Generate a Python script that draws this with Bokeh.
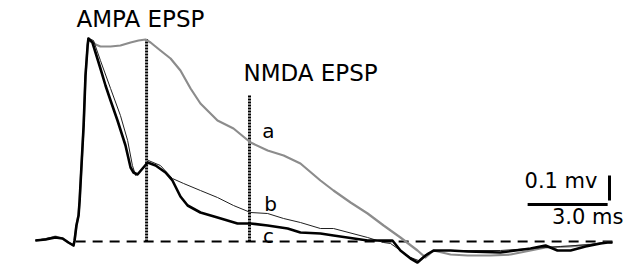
from bokeh.plotting import figure
from bokeh.models import Range1d
from bokeh.core.properties import value
from bokeh.embed import file_html
from bokeh.resources import INLINE

# Time (ms) relative to stimulus, membrane potential (mV) relative to baseline
t_a = [-1.43, -1.05, -0.68, -0.41, -0.19, 0.0, 0.04, 0.11, 0.19, 0.23, 0.30, 0.38, 0.45, 0.53, 0.56,
       0.83, 1.01, 1.39, 1.76, 2.14, 2.44, 2.70, 2.89, 3.26, 3.64, 4.01, 4.39, 4.76, 5.40, 6.00,
       6.64, 7.28, 7.88, 8.51, 9.26, 9.75, 10.39, 11.03, 11.63, 12.26, 12.90, 13.20, 13.50, 14.14,
       14.78, 15.64, 16.39, 17.14, 17.70, 18.64, 19.39, 19.95, 20.21]
v_a = [0.004, 0.008, 0.020, 0.012, -0.004, -0.016, 0.004, 0.064, 0.108, 0.164, 0.304, 0.464, 0.664, 0.784, 0.812,
       0.788, 0.780, 0.780, 0.784, 0.796, 0.804, 0.808, 0.796, 0.764, 0.732, 0.684, 0.612, 0.552, 0.484, 0.452,
       0.396, 0.364, 0.344, 0.312, 0.244, 0.204, 0.156, 0.112, 0.064, 0.016, -0.036, -0.064, -0.036, -0.052,
       -0.056, -0.056, -0.052, -0.036, -0.024, -0.020, -0.012, -0.004, -0.004]

t_b = [-1.43, -1.05, -0.68, -0.41, -0.19, 0.0, 0.04, 0.11, 0.19, 0.23, 0.30, 0.38, 0.45, 0.53, 0.56,
       0.75, 1.01, 1.39, 1.76, 2.03, 2.21, 2.33, 2.59, 2.81, 3.26, 3.71, 4.13, 4.76, 5.40, 6.00,
       6.64, 7.28, 7.88, 8.51, 9.26, 9.75, 11.03, 11.63, 11.89, 12.26, 12.64, 12.94, 13.31, 13.76,
       14.51, 16.01, 17.14, 18.26, 19.39, 19.95, 20.21]
v_b = [0.004, 0.012, 0.020, 0.012, -0.004, -0.016, 0.004, 0.064, 0.104, 0.164, 0.304, 0.464, 0.664, 0.784, 0.812,
       0.804, 0.724, 0.612, 0.504, 0.404, 0.304, 0.264, 0.292, 0.324, 0.304, 0.252, 0.232, 0.204, 0.176, 0.144,
       0.116, 0.112, 0.092, 0.076, 0.052, 0.052, 0.016, -0.004, -0.008, -0.036, -0.064, -0.076, -0.044, -0.036,
       -0.036, -0.036, -0.028, -0.020, -0.012, -0.004, -0.004]

t_c = [-1.43, -1.05, -0.68, -0.41, -0.19, 0.0, 0.04, 0.11, 0.19, 0.23, 0.30, 0.38, 0.45, 0.53, 0.56,
       0.71, 0.86, 1.01, 1.20, 1.39, 1.65, 1.95, 2.14, 2.25, 2.40, 2.59, 2.78, 3.08, 3.45, 3.71,
       4.01, 4.28, 4.76, 5.40, 6.15, 6.64, 7.28, 8.03, 8.51, 9.26, 9.75, 11.03, 11.96, 12.26,
       12.64, 12.90, 13.20, 13.50, 14.14, 14.78, 16.01, 17.14, 17.70, 18.15, 18.64, 19.20, 19.76,
       20.03, 20.21]
v_c = [0.004, 0.008, 0.016, 0.012, -0.004, -0.016, 0.004, 0.064, 0.104, 0.164, 0.304, 0.464, 0.664, 0.784, 0.812,
       0.796, 0.744, 0.692, 0.624, 0.564, 0.484, 0.384, 0.296, 0.276, 0.268, 0.292, 0.316, 0.304, 0.276, 0.244,
       0.180, 0.144, 0.116, 0.096, 0.072, 0.072, 0.064, 0.052, 0.036, 0.032, 0.024, 0.004, 0.004, -0.036,
       -0.068, -0.084, -0.056, -0.036, -0.036, -0.040, -0.044, -0.028, -0.016, -0.036, -0.036, -0.020, -0.008,
       -0.004, -0.004]

# Markers and annotations
ampa_t, ampa_top = 2.74, 0.81
nmda_t, nmda_top = 6.60, 0.584
baseline_t = [0.08, 20.21]
scale_v_t, scale_v = 20.10, [0.164, 0.264]   # 0.1 mV
scale_t, scale_t_v = [17.03, 20.03], 0.148   # 3.0 ms

p = figure(width=624, height=264, output_backend="svg", toolbar_location=None,
           x_range=Range1d(-2.7375, 20.6625), y_range=Range1d(-0.092, 0.964),
           min_border=0, min_border_left=0, min_border_right=0,
           min_border_top=0, min_border_bottom=0)
p.axis.visible = False
p.xgrid.visible = False
p.ygrid.visible = False
p.outline_line_color = None
p.background_fill_color = "white"
p.border_fill_color = "white"

# baseline
p.line(baseline_t, [0, 0], line_color="black", line_width=2, line_dash="10 7")
# markers
p.line([ampa_t, ampa_t], [0, ampa_top], line_color="black", line_width=3, line_dash="2 1")
p.line([nmda_t, nmda_t], [0, nmda_top], line_color="black", line_width=3, line_dash="2 1")

# traces
p.line(t_a, v_a, line_color="#8c8c8c", line_width=2.2, line_join="round")
p.line(t_b, v_b, line_color="#202020", line_width=1.0, line_join="round")
p.line(t_c, v_c, line_color="black", line_width=2.6, line_join="round")

# scale bars
p.line([scale_v_t, scale_v_t], scale_v, line_color="black", line_width=3)
p.line(scale_t, [scale_t_v, scale_t_v], line_color="black", line_width=3)

font = value("DejaVu Sans")
p.text(x=[2.51], y=[0.892], text=["AMPA EPSP"], text_font=font, text_font_size="23px",
       text_align="center", text_baseline="middle", text_color="black")
p.text(x=[8.89], y=[0.676], text=["NMDA EPSP"], text_font=font, text_font_size="23px",
       text_align="center", text_baseline="middle", text_color="black")
p.text(x=[7.31, 7.39, 7.31], y=[0.444, 0.152, 0.024], text=["a", "b", "c"], text_font=font,
       text_font_size="20px", text_align="center", text_baseline="middle", text_color="black")
p.text(x=[19.65], y=[0.244], text=["0.1 mv"], text_font=font, text_font_size="21px",
       text_align="right", text_baseline="middle", text_color="black")
p.text(x=[20.62], y=[0.100], text=["3.0 ms"], text_font=font, text_font_size="21px",
       text_align="right", text_baseline="middle", text_color="black")

open("out.html", "w").write(file_html(p, INLINE))
